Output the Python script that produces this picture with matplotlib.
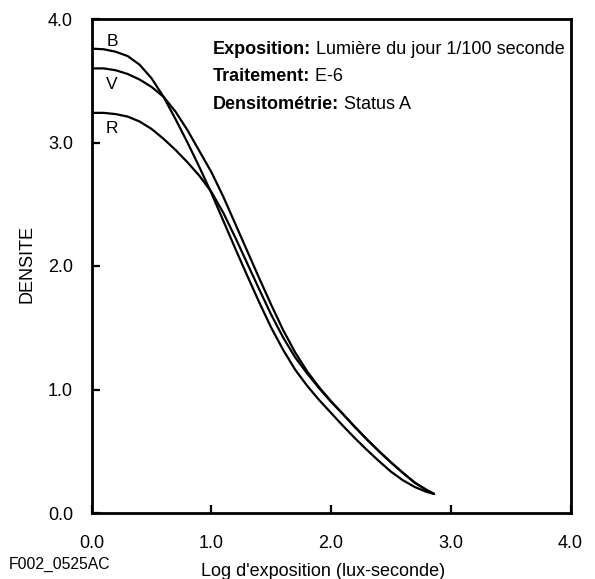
import matplotlib
matplotlib.use("Agg")
import matplotlib.pyplot as plt

plt.rcParams['font.family'] = ['Liberation Sans', 'DejaVu Sans']

# Data (Log exposure, density)
log_e = [0.0, 0.1, 0.2, 0.3, 0.4, 0.5, 0.6, 0.7, 0.8, 0.9, 1.0, 1.1, 1.2, 1.3, 1.4,
         1.5, 1.6, 1.7, 1.8, 1.9, 2.0, 2.1, 2.2, 2.3, 2.4, 2.5, 2.6, 2.7, 2.8, 2.86]

b_y = [3.76, 3.755, 3.735, 3.70, 3.63, 3.52, 3.37, 3.19, 3.00, 2.80, 2.59, 2.365, 2.14, 1.92, 1.705,
       1.50, 1.32, 1.16, 1.03, 0.915, 0.81, 0.705, 0.605, 0.51, 0.42, 0.335, 0.265, 0.21, 0.17, 0.155]

v_y = [3.60, 3.60, 3.585, 3.555, 3.51, 3.45, 3.37, 3.25, 3.10, 2.93, 2.76, 2.56, 2.34, 2.12, 1.90,
       1.685, 1.48, 1.30, 1.147, 1.018, 0.905, 0.80, 0.695, 0.595, 0.50, 0.41, 0.325, 0.245, 0.185, 0.155]

r_y = [3.24, 3.24, 3.23, 3.21, 3.17, 3.11, 3.03, 2.94, 2.84, 2.73, 2.60, 2.43, 2.23, 2.02, 1.81,
       1.605, 1.42, 1.26, 1.13, 1.01, 0.90, 0.80, 0.695, 0.595, 0.50, 0.41, 0.325, 0.245, 0.185, 0.155]

curve_labels = ["B", "V", "R"]
label_pos = [(0.17, 3.82), (0.17, 3.47), (0.17, 3.11)]

ticks = [0.0, 1.0, 2.0, 3.0, 4.0]
tick_labels = ["0.0", "1.0", "2.0", "3.0", "4.0"]

W, H = 595, 579
fig = plt.figure(figsize=(W / 100, H / 100), dpi=100)
ax = fig.add_axes([91.7 / W, 1 - 513 / H, (570.5 - 91.7) / W, (513 - 19) / H])

for ys in [b_y, v_y, r_y]:
    ax.plot(log_e, ys, color='black', lw=1.6, solid_capstyle='round', solid_joinstyle='round')

for lab, (lx, ly) in zip(curve_labels, label_pos):
    ax.text(lx, ly, lab, fontsize=12.5, ha='center', va='center')

ax.set_xlim(0, 4)
ax.set_ylim(0, 4)
ax.set_xticks(ticks)
ax.set_xticklabels(tick_labels)
ax.set_yticks(ticks)
ax.set_yticklabels(tick_labels)
ax.tick_params(axis='both', direction='in', length=6, width=1.6, labelsize=13)
ax.tick_params(axis='x', pad=16)
ax.tick_params(axis='y', pad=13.5)
for s in ax.spines.values():
    s.set_linewidth(2.0)

# annotation block
info = [("Exposition:", " Lumière du jour 1/100 seconde"),
        ("Traitement:", " E-6"),
        ("Densitométrie:", " Status A")]
info_y = [3.757, 3.533, 3.306]
for (bold, reg), yy in zip(info, info_y):
    t = ax.text(1.01, yy, bold, fontsize=13, fontweight='bold', ha='left', va='center')
    ax.annotate(reg, xy=(1, 0), xycoords=t, fontsize=13, ha='left', va='bottom')

fig.text(26.7 / W, 1 - 264 / H, "DENSITE", rotation=90, fontsize=13, ha='center', va='center')
fig.text(323.5 / W, 1 - 571 / H, "Log d'exposition (lux-seconde)", fontsize=13, ha='center', va='center')
fig.text(8.3 / W, 1 - 564 / H, "F002_0525AC", fontsize=11.3, ha='left', va='center')

fig.savefig("out.png", dpi=100)
